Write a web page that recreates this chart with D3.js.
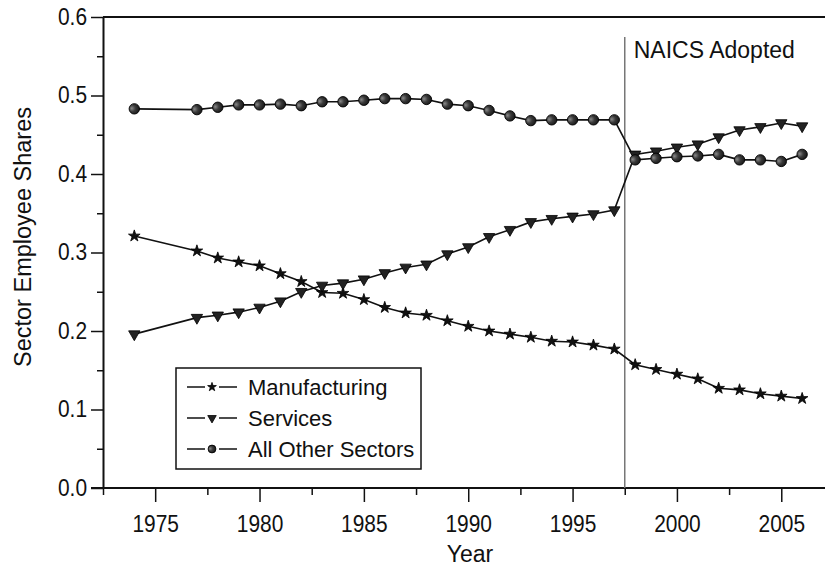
<!DOCTYPE html>
<html>
<head>
<meta charset="utf-8">
<script src="https://cdn.jsdelivr.net/npm/d3@7"></script>
<style>
    body { margin: 0; background: #fff; }
    svg { display: block; font-family: "Liberation Sans", Arial, Helvetica, sans-serif; }
    .axis text { font-size: 23px; fill: #111; }
    .axis path, .axis line { stroke: #111; }
</style>
</head>
<body>
<svg width="825" height="574"></svg>
<script>
// Values
var years = [1974, 1977, 1978, 1979, 1980, 1981, 1982, 1983, 1984, 1985,
             1986, 1987, 1988, 1989, 1990, 1991, 1992, 1993, 1994, 1995, 1996, 1997,
             1998, 1999, 2000, 2001, 2002, 2003, 2004, 2005, 2006];

var manufacturing = [0.321, 0.302, 0.293, 0.288, 0.283, 0.273, 0.263, 0.249, 0.248, 0.240,
                     0.230, 0.223, 0.220, 0.213, 0.206, 0.200, 0.196, 0.192, 0.187, 0.186, 0.182, 0.177,
                     0.157, 0.151, 0.145, 0.139, 0.127, 0.125, 0.120, 0.117, 0.114];

var services = [0.196, 0.217, 0.220, 0.224, 0.230, 0.238, 0.250, 0.258, 0.261, 0.266,
                0.274, 0.281, 0.285, 0.298, 0.307, 0.320, 0.329, 0.339, 0.343, 0.346, 0.349, 0.354,
                0.425, 0.429, 0.434, 0.438, 0.447, 0.456, 0.460, 0.465, 0.461];

var otherSectors = [0.483, 0.482, 0.485, 0.488, 0.488, 0.489, 0.487, 0.492, 0.492, 0.494,
                    0.496, 0.496, 0.495, 0.489, 0.487, 0.481, 0.474, 0.468, 0.469, 0.469, 0.469, 0.469,
                    0.418, 0.420, 0.422, 0.423, 0.425, 0.418, 0.418, 0.416, 0.425];

var seriesNames = ["Manufacturing", "Services", "All Other Sectors"];
var xMajorTicks = [1975, 1980, 1985, 1990, 1995, 2000, 2005];
var yMajorTicks = [0.0, 0.1, 0.2, 0.3, 0.4, 0.5, 0.6];
var naicsYear = 1997.5;
var naicsLabel = "NAICS Adopted";

function init() {
    var svg = d3.select("svg");

    // Plot area in pixels
    var left = 103, top = 17, bottom = 488;
    // tick labels in the original are a little condensed
    var squeeze = 0.91;

    var x = d3.scaleLinear().domain([1972.5, 2007.5]).range([left, left + 35 * 20.87]);
    var y = d3.scaleLinear().domain([0, 0.6]).range([bottom, top]);

    var series = [
        {name: seriesNames[0], values: manufacturing, shape: "star"},
        {name: seriesNames[1], values: services, shape: "triangle"},
        {name: seriesNames[2], values: otherSectors, shape: "circle"}
    ];

    // Shaded ball for the circle markers
    var grad = svg.append("defs").append("radialGradient")
        .attr("id", "ball")
        .attr("cx", "0.35").attr("cy", "0.45").attr("r", "0.7")
        .attr("fx", "0.25").attr("fy", "0.45");
    grad.append("stop").attr("offset", "0").attr("stop-color", "#8a8a8a");
    grad.append("stop").attr("offset", "0.45").attr("stop-color", "#3a3a3a");
    grad.append("stop").attr("offset", "1").attr("stop-color", "#111");

    /****** AXES ******/
    var xMinor = d3.range(1972.5, 2008, 5);
    var yMinor = d3.range(0.05, 0.6, 0.1);

    svg.append("g")
        .attr("class", "axis")
        .attr("transform", "translate(0," + bottom + ")")
        .call(d3.axisBottom(x).tickValues(xMinor).tickSize(7).tickFormat(""))
        .call(function(g) { g.select(".domain").remove(); })
        .selectAll("line").attr("stroke-width", 1.5);

    var xAxis = svg.append("g")
        .attr("class", "axis")
        .attr("transform", "translate(0," + bottom + ")")
        .call(d3.axisBottom(x).tickValues(xMajorTicks).tickSize(14).tickSizeOuter(0)
            .tickPadding(14).tickFormat(d3.format("d")));
    xAxis.select(".domain").attr("stroke-width", 2).attr("d", "M" + (left - 12) + ",0H825");
    xAxis.selectAll("line").attr("stroke-width", 1.5);
    xAxis.selectAll(".tick text").attr("transform", "scale(" + squeeze + ",1)");

    svg.append("g")
        .attr("class", "axis")
        .attr("transform", "translate(" + left + ",0)")
        .call(d3.axisLeft(y).tickValues(yMinor).tickSize(6).tickFormat(""))
        .call(function(g) { g.select(".domain").remove(); })
        .selectAll("line").attr("stroke-width", 1.5);

    var yAxis = svg.append("g")
        .attr("class", "axis")
        .attr("transform", "translate(" + left + ",0)")
        .call(d3.axisLeft(y).tickValues(yMajorTicks).tickSize(12).tickSizeOuter(0)
            .tickPadding(5).tickFormat(d3.format(".1f")));
    yAxis.select(".domain").attr("stroke-width", 2);
    yAxis.selectAll("line").attr("stroke-width", 1.5);
    yAxis.selectAll(".tick text")
        .attr("x", -16 / squeeze)
        .attr("transform", "scale(" + squeeze + ",1)");

    // Top frame line
    svg.append("line")
        .attr("x1", left).attr("x2", 825)
        .attr("y1", y(0.6)).attr("y2", y(0.6))
        .attr("stroke", "#111").attr("stroke-width", 2);

    // Axis titles
    svg.append("text")
        .attr("text-anchor", "middle")
        .attr("font-size", 23.5)
        .attr("fill", "#111")
        .attr("transform", "translate(31,237)rotate(-90)")
        .text("Sector Employee Shares");

    svg.append("text")
        .attr("text-anchor", "middle")
        .attr("font-size", 23)
        .attr("fill", "#111")
        .attr("x", 470).attr("y", 562)
        .text("Year");

    /****** NAICS MARKER ******/
    svg.append("line")
        .attr("x1", x(naicsYear)).attr("x2", x(naicsYear))
        .attr("y1", 37).attr("y2", bottom)
        .attr("stroke", "#777").attr("stroke-width", 1.5);

    svg.append("text")
        .attr("x", x(naicsYear) + 9).attr("y", 58)
        .attr("font-size", 23)
        .attr("fill", "#111")
        .text(naicsLabel);

    /****** SERIES ******/
    var line = d3.line()
        .x(function(d, i) { return x(years[i]); })
        .y(function(d) { return y(d); });

    series.forEach(function(s) {
        svg.append("path")
            .datum(s.values)
            .attr("fill", "none")
            .attr("stroke", "#111")
            .attr("stroke-width", 1.6)
            .attr("d", line);
    });

    series.forEach(function(s) {
        svg.selectAll("g.m-" + s.shape)
            .data(s.values)
            .enter()
            .append("g")
            .attr("class", "m-" + s.shape)
            .attr("transform", function(d, i) {
                return "translate(" + x(years[i]) + "," + y(d) + ")";
            })
            .each(function() { drawMarker(d3.select(this), s.shape, 1); });
    });

    /****** LEGEND ******/
    var legend = svg.append("g").attr("transform", "translate(176,368)");
    legend.append("rect")
        .attr("width", 245).attr("height", 101)
        .attr("fill", "#fff")
        .attr("stroke", "#111").attr("stroke-width", 1.5);

    series.forEach(function(s, i) {
        var row = legend.append("g").attr("transform", "translate(0," + (19 + i * 31) + ")");
        row.append("line").attr("x1", 11).attr("x2", 29).attr("y1", 0).attr("y2", 0)
            .attr("stroke", "#111").attr("stroke-width", 1.5);
        row.append("line").attr("x1", 43).attr("x2", 61).attr("y1", 0).attr("y2", 0)
            .attr("stroke", "#111").attr("stroke-width", 1.5);
        drawMarker(row.append("g").attr("transform", "translate(36,0)"), s.shape, 0.75);
        row.append("text")
            .attr("x", 72).attr("y", 0)
            .attr("dy", "0.35em")
            .attr("font-size", 22)
            .attr("fill", "#111")
            .text(s.name);
    });

    function drawMarker(g, shape, k) {
        if (shape === "star") {
            g.append("path")
                .attr("d", d3.symbol().type(d3.symbolStar).size(42 * k * k)())
                .attr("fill", "#111").attr("stroke", "#000").attr("stroke-width", 0.8);
        } else if (shape === "triangle") {
            g.append("path")
                .attr("d", d3.symbol().type(d3.symbolTriangle).size(56 * k * k)())
                .attr("transform", "rotate(180)")
                .attr("fill", "#222").attr("stroke", "#000").attr("stroke-width", 0.8);
        } else {
            g.append("circle")
                .attr("r", 5.2 * k)
                .attr("fill", "url(#ball)")
                .attr("stroke", "#000").attr("stroke-width", 0.9);
        }
    }
}

init();
</script>
</body>
</html>
